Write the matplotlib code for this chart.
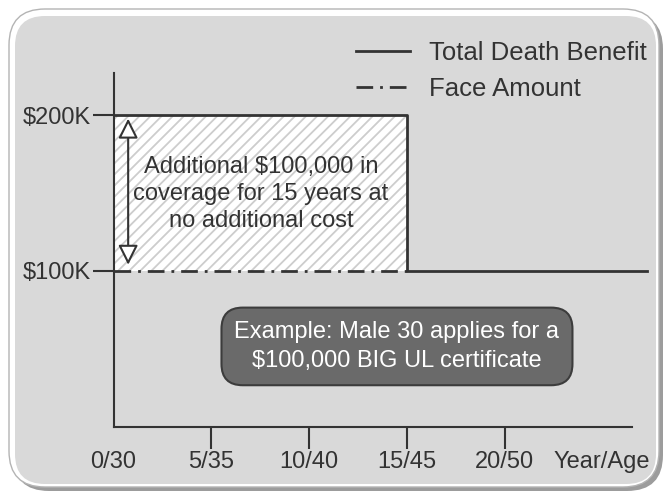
import matplotlib
matplotlib.use("Agg")
import matplotlib.pyplot as plt
from matplotlib.patches import FancyBboxPatch, FancyArrowPatch
from matplotlib.lines import Line2D

plt.rcParams['font.family'] = ['Liberation Sans', 'DejaVu Sans']
plt.rcParams['hatch.linewidth'] = 1.3

# data
tick_years = [0, 5, 10, 15, 20, 25]
tick_labels = ['0/30', '5/35', '10/40', '15/45', '20/50', 'Year/Age']
benefit_years = [0, 15, 15, 27.3]
benefit_values = [200, 200, 100, 100]     # $K
face_years = [0, 15]
face_values = [100, 100]
y_ticks = [100, 200]
y_labels = ['$100K', '$200K']

ink = '#333333'
dash = [6, 2.5, 1, 2.5]
W, H = 664, 493
fig = plt.figure(figsize=(W / 100, H / 100), dpi=100)

# rounded panel behind everything, in pixel units
bg = fig.add_axes([0, 0, 1, 1])
bg.set_xlim(0, W)
bg.set_ylim(H, 0)
bg.axis('off')
bg.add_patch(FancyBboxPatch((13, 13), 650, 478, boxstyle='round,pad=0,rounding_size=36',
                            fc='#9c9c9c', ec='none'))
bg.add_patch(FancyBboxPatch((9, 9), 650, 478, boxstyle='round,pad=0,rounding_size=36',
                            fc='white', ec='#b4b4b4', lw=1))
bg.add_patch(FancyBboxPatch((15, 16), 641, 468, boxstyle='round,pad=0,rounding_size=30',
                            fc='#d9d9d9', ec='none'))

# main axes mapped so data lands where the picture has it
ax = fig.add_axes([0, 0, 1, 1])
ax.patch.set_visible(False)
x0, xs = 113.5, 19.55
y0, ys = 426.5, 1.555
ax.set_xlim(-x0 / xs, (W - x0) / xs)
ax.set_ylim((y0 - H) / ys, y0 / ys)

for s in ['top', 'right']:
    ax.spines[s].set_visible(False)
ax.spines['left'].set_position(('data', 0))
ax.spines['bottom'].set_position(('data', 0))
ax.spines['left'].set_bounds(0, (y0 - 73) / ys)
ax.spines['bottom'].set_bounds(0, (632 - x0) / xs)
for s in ['left', 'bottom']:
    ax.spines[s].set_color(ink)
    ax.spines[s].set_linewidth(1.5)

ax.set_xticks(tick_years, tick_labels)
ax.set_yticks(y_ticks, y_labels)
ax.tick_params(axis='x', direction='out', length=16, width=1.5, color=ink,
               labelsize=17, labelcolor=ink, pad=1.5)
ax.tick_params(axis='y', direction='out', length=15, width=1.5, color=ink,
               labelsize=17, labelcolor=ink, pad=1.5)
ticks = ax.xaxis.get_major_ticks()
ticks[0].tick1line.set_visible(False)
ticks[-1].tick1line.set_visible(False)

# additional coverage region
ax.fill_between(face_years, face_values, [benefit_values[0]] * 2, facecolor='white',
                edgecolor='#cdcdcd', hatch='///', linewidth=0, zorder=1)

ax.plot(face_years, face_values, color=ink, lw=2, dashes=dash, zorder=3)
ax.plot(benefit_years, benefit_values, color=ink, lw=2, zorder=4)

ax.add_patch(FancyArrowPatch((0.75, 104), (0.75, 198), arrowstyle='<|-|>,head_length=0.6,head_width=0.3',
                             mutation_scale=20, fc='white', ec=ink, lw=1.5,
                             shrinkA=0, shrinkB=0, zorder=5))
ax.text(7.55, 149.5, 'Additional $100,000 in\ncoverage for 15 years at\nno additional cost',
        ha='center', va='center', fontsize=17, color=ink, linespacing=1.3, zorder=5)

ax.text(14.5, 51.5, 'Example: Male 30 applies for a\n$100,000 BIG UL certificate',
        ha='center', va='center', fontsize=17, color='white', linespacing=1.45, zorder=6,
        bbox=dict(boxstyle='round,pad=0.55,rounding_size=0.9', fc='#6a6a6a', ec='#3c3c3c', lw=1.5))

handles = [Line2D([], [], color=ink, lw=2),
           Line2D([], [], color=ink, lw=2, dashes=dash)]
leg = ax.legend(handles, ['Total Death Benefit', 'Face Amount'], loc='upper left',
                bbox_to_anchor=(356 / W, 1 - 41 / H), bbox_transform=fig.transFigure,
                frameon=False, fontsize=18.5, handlelength=2.1, handletextpad=0.75,
                labelspacing=0.45, borderpad=0, borderaxespad=0)
for t in leg.get_texts():
    t.set_color(ink)

fig.savefig('out.png', dpi=100)
